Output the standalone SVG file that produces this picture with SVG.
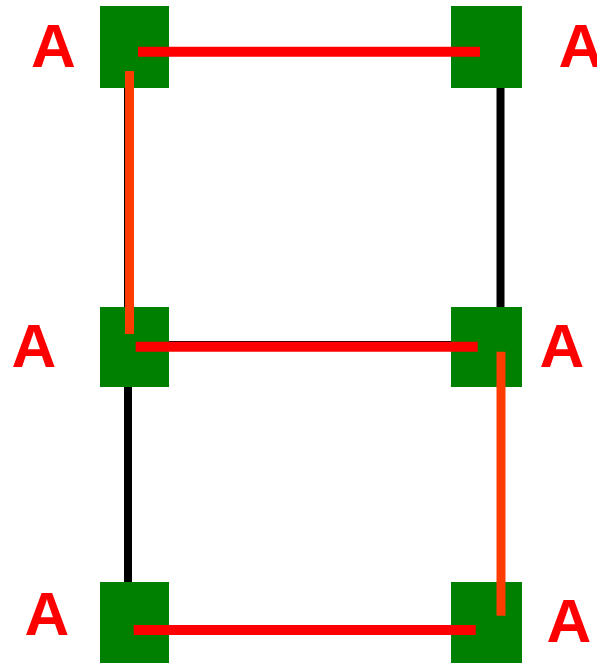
<svg xmlns="http://www.w3.org/2000/svg" width="597" height="664" viewBox="0 0 597 664">
  <style>
    .node rect { fill: #008000; }
    .label { font-family: "Liberation Sans", Arial, sans-serif; font-weight: bold; font-size: 62px; fill: #ff0000; text-anchor: middle; }
    .edge { stroke: #000000; stroke-width: 8; fill: none; }
    .path-h { stroke: #ff0000; stroke-width: 10; fill: none; }
    .path-v { stroke: #ff3c00; stroke-width: 9; fill: none; }
  </style>

  <rect width="597" height="664" fill="#ffffff"/>

  <!-- base connectors -->
  <g id="edges">
    <line class="edge" x1="128" y1="88" x2="128" y2="307"/>
    <line class="edge" x1="500.5" y1="88" x2="500.5" y2="307"/>
    <line class="edge" x1="169" y1="345" x2="451" y2="345" stroke-width="7"/>
    <line class="edge" x1="128" y1="387" x2="128" y2="582"/>
  </g>

  <!-- nodes -->
  <g id="n-top-left" class="node">
    <rect x="100" y="6" width="69" height="82"/>
    <text class="label" x="53.5" y="67">A</text>
  </g>
  <g id="n-top-right" class="node">
    <rect x="451" y="6" width="71" height="82"/>
    <text class="label" x="581" y="67">A</text>
  </g>
  <g id="n-mid-left" class="node">
    <rect x="100" y="307" width="69" height="80"/>
    <text class="label" x="34" y="367">A</text>
  </g>
  <g id="n-mid-right" class="node">
    <rect x="451" y="307" width="71" height="80"/>
    <text class="label" x="562" y="367">A</text>
  </g>
  <g id="n-bot-left" class="node">
    <rect x="100" y="582" width="69" height="81"/>
    <text class="label" x="47" y="635">A</text>
  </g>
  <g id="n-bot-right" class="node">
    <rect x="451" y="582" width="71" height="81"/>
    <text class="label" x="569" y="641.5">A</text>
  </g>

  <!-- highlighted route -->
  <g id="route">
    <line class="path-h" x1="138" y1="51.7" x2="480" y2="51.7"/>
    <line class="path-v" x1="129.5" y1="71" x2="129.5" y2="334"/>
    <line class="path-h" x1="135.7" y1="346.7" x2="477.7" y2="346.7"/>
    <line class="path-v" x1="501" y1="351.7" x2="501" y2="615.7"/>
    <line class="path-h" x1="133.7" y1="630" x2="475.7" y2="630" stroke-width="9.5"/>
  </g>
</svg>
